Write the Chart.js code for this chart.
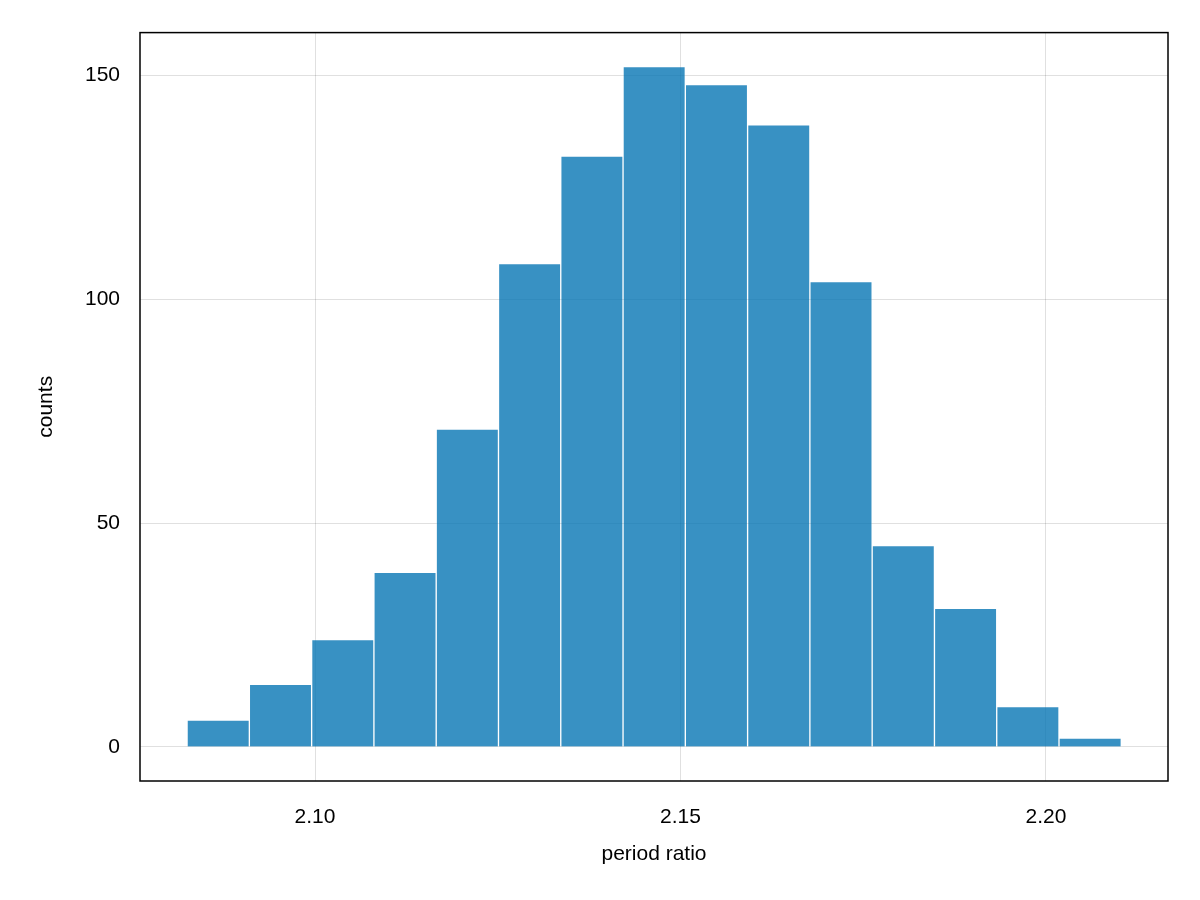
<!DOCTYPE html>
<html lang="en">
<head>
<meta charset="UTF-8">
<title>period ratio histogram</title>
<script src="https://cdn.jsdelivr.net/npm/chart.js@4.4.7/dist/chart.umd.min.js"></script>
<style>
*{margin:0;padding:0}
body{background:#fff;width:1200px;height:900px}
#wrap{width:1200px;height:900px}
</style>
</head>
<body>
<div id="wrap"><canvas id="hist"></canvas></div>
<script>
// bin centres (period ratio) and counts
const binCenters = [2.08676, 2.09528, 2.10380, 2.11232, 2.12084, 2.12936, 2.13788, 2.14640,
                    2.15492, 2.16344, 2.17196, 2.18048, 2.18900, 2.19752, 2.20604];
const counts = [6, 14, 24, 39, 71, 108, 132, 152, 148, 139, 104, 45, 31, 9, 2];
const xTicks = [2.10, 2.15, 2.20];
const yTicks = [0, 50, 100, 150];

const font = { family: "'Liberation Sans', 'DejaVu Sans', sans-serif", size: 21 };
const gridColor = 'rgba(0,0,0,0.12)';

// full black frame around the plot area
const frame = {
  id: 'frame',
  afterDraw(chart) {
    const { ctx, chartArea: a } = chart;
    ctx.save();
    ctx.strokeStyle = '#000';
    ctx.lineWidth = 1.5;
    ctx.strokeRect(a.left, a.top, a.right - a.left, a.bottom - a.top);
    ctx.restore();
  }
};

new Chart(document.getElementById('hist'), {
  type: 'bar',
  data: {
    datasets: [{
      data: binCenters.map((x, i) => ({ x, y: counts[i] })),
      backgroundColor: 'rgba(0,114,178,0.78)',
      borderColor: 'rgba(255,255,255,0.12)',
      borderWidth: 1,
      barPercentage: 1,
      categoryPercentage: 1,
    }]
  },
  options: {
    responsive: true,
    maintainAspectRatio: false,
    animation: false,
    layout: { padding: { top: 32, right: 32, left: 34, bottom: 33 } },
    plugins: { legend: { display: false }, tooltip: { enabled: false } },
    scales: {
      x: {
        type: 'linear',
        offset: false,
        min: 2.07606, max: 2.21669,
        afterFit: s => { s.height = 86; },
        afterBuildTicks: s => { s.ticks = xTicks.map(v => ({ value: v })); },
        ticks: { color: '#000', font, padding: 24, maxRotation: 0, callback: v => v.toFixed(2) },
        grid: { color: gridColor, drawTicks: false, offset: false },
        border: { display: false },
        title: { display: true, text: 'period ratio', color: '#000', font, padding: { top: 0, bottom: 0 } },
      },
      y: {
        min: -7.6, max: 159.6,
        afterFit: s => { s.width = 106; },
        afterBuildTicks: s => { s.ticks = yTicks.map(v => ({ value: v })); },
        ticks: { color: '#000', font, padding: 20 },
        grid: { color: gridColor, drawTicks: false },
        border: { display: false },
        title: { display: true, text: 'counts', color: '#000', font, padding: { top: 0, bottom: 0 } },
      },
    },
  },
  plugins: [frame],
});
</script>
</body>
</html>
